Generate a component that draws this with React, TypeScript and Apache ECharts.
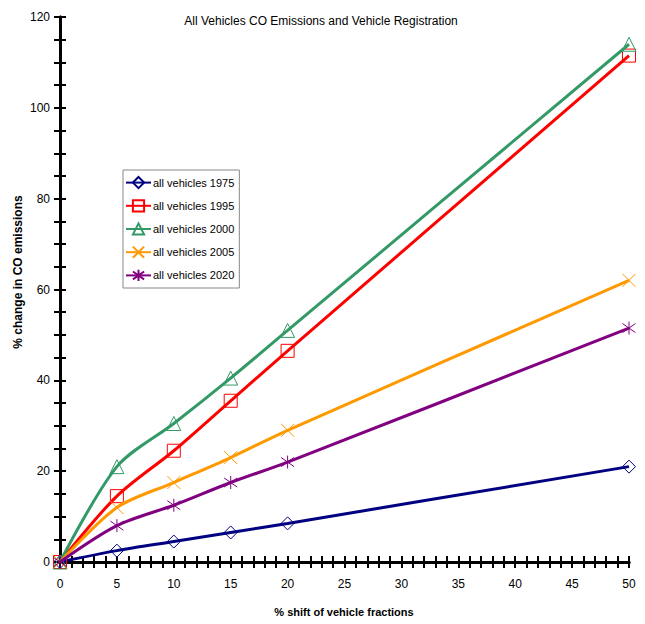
import React, { useEffect, useRef } from "react";
import * as echarts from "echarts";

const xValues = [0, 5, 10, 15, 20, 50];
const seriesNames = [
  "all vehicles 1975",
  "all vehicles 1995",
  "all vehicles 2000",
  "all vehicles 2005",
  "all vehicles 2020",
];
const v1975 = [0, 2.5, 4.5, 6.5, 8.5, 21];
const v1995 = [0, 14.5, 24.5, 35.5, 46.5, 111.5];
const v2000 = [0, 21, 30.5, 40.5, 51, 114];
const v2005 = [0, 12, 17.5, 23, 29, 62];
const v2020 = [0, 8, 12.5, 17.5, 22, 51.5];
const colors = ["#000080", "#ff0000", "#339966", "#ff9900", "#800080"];
const symbols = [
  "diamond",
  "rect",
  "triangle",
  "path://M0,0L10,10M10,0L0,10",
  "path://M5,0L5,10M1.5,1.5L8.5,8.5M8.5,1.5L1.5,8.5",
];

const FONT = "'Liberation Sans', Arial, sans-serif";

export default function App() {
  const ref = useRef<HTMLDivElement>(null);
  useEffect(() => {
    document.body.style.margin = "0";
    const chart = echarts.init(ref.current!, undefined, { renderer: "svg" });
    const allValues = [v1975, v1995, v2000, v2005, v2020];
    const mkX = (inside: boolean, main: boolean) => ({
      type: "value",
      min: 0,
      max: 50,
      interval: 5,
      position: "bottom",
      axisLine: { show: true, onZero: false, lineStyle: { color: "#000", width: 3 } },
      axisTick: { show: true, inside, length: 6, lineStyle: { color: "#000", width: 2 } },
      minorTick: { show: true, splitNumber: 5, length: 6, lineStyle: { color: "#000", width: 2 } },
      axisLabel: { show: main, margin: 16, fontFamily: FONT, fontSize: 12, color: "#000" },
      splitLine: { show: false },
      minorSplitLine: { show: false },
    });
    const mkY = (inside: boolean, main: boolean) => ({
      type: "value",
      min: 0,
      max: 120,
      interval: 20,
      position: "left",
      axisLine: { show: true, onZero: false, lineStyle: { color: "#000", width: 3 } },
      axisTick: { show: true, inside, length: 6, lineStyle: { color: "#000", width: 2 } },
      minorTick: { show: true, splitNumber: 4, length: 6, lineStyle: { color: "#000", width: 2 } },
      axisLabel: { show: main, margin: 10, fontFamily: FONT, fontSize: 12, color: "#000" },
      splitLine: { show: false },
      minorSplitLine: { show: false },
    });
    chart.setOption({
      animation: false,
      color: colors,
      title: {
        text: "All Vehicles CO Emissions and Vehicle Registration",
        left: 316,
        textAlign: "center",
        top: 10,
        textStyle: { fontFamily: FONT, fontSize: 12, fontWeight: "normal", color: "#000" },
      },
      graphic: [
        {
          type: "text",
          x: 18,
          y: 272,
          rotation: Math.PI / 2,
          style: {
            text: "% change in CO emissions",
            font: "bold 12px " + FONT,
            fill: "#000",
            align: "center",
            verticalAlign: "middle",
          },
        },
        {
          type: "text",
          x: 344,
          y: 612,
          style: {
            text: "% shift of vehicle fractions",
            font: "bold 11px " + FONT,
            fill: "#000",
            align: "center",
            verticalAlign: "middle",
          },
        },
      ],
      grid: { left: 60, right: 16, top: 17, bottom: 62, containLabel: false },
      legend: {
        orient: "vertical",
        left: 123,
        top: 170,
        padding: [6, 5, 6, 2],
        itemGap: 10,
        itemWidth: 25,
        itemHeight: 14,
        borderColor: "#888",
        borderWidth: 1,
        backgroundColor: "#fff",
        textStyle: { fontFamily: FONT, fontSize: 11, color: "#000", padding: [0, 0, 0, -3] },
        data: seriesNames,
      },
      xAxis: [mkX(false, true), mkX(true, false)],
      yAxis: [mkY(false, true), mkY(true, false)],
      series: seriesNames.map((name, i) => ({
        name,
        type: "line",
        xAxisIndex: 0,
        yAxisIndex: 0,
        data: xValues.map((x, j) => [x, allValues[i][j]]),
        smooth: 0.3,
        symbol: symbols[i],
        symbolSize: i === 2 ? 14 : 13,
        showSymbol: true,
        lineStyle: { color: colors[i], width: 3 },
        itemStyle: { color: "rgba(0,0,0,0)", borderColor: colors[i], borderWidth: 1 },
        emphasis: { disabled: true },
        z: 2 + i,
      })),
    });
    return () => chart.dispose();
  }, []);
  return (
    <div
      ref={ref}
      style={{ position: "absolute", left: 0, top: 0, width: 645, height: 624, background: "#fff" }}
    />
  );
}
